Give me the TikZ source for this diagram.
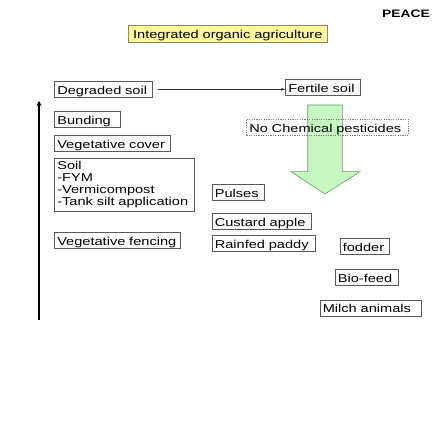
\documentclass[tikz,border=0pt]{standalone}
\usepackage{fontspec}
\setmainfont{Liberation Sans}
\newfontfamily\wide[FakeStretch=1.28]{Liberation Sans}
\usetikzlibrary{arrows.meta}
\definecolor{boxline}{HTML}{5A5A5A}
\definecolor{titlefill}{HTML}{FBF79A}
\definecolor{titleline}{HTML}{8A8A60}
\definecolor{arrowfill}{HTML}{C6F7C0}
\definecolor{arrowline}{HTML}{6E9A6A}
\tikzset{
  basebox/.style={font=\wide\fontsize{11.4}{12.1}\selectfont, draw=boxline, line width=0.6pt,
    inner xsep=3pt, inner ysep=0pt, minimum height=16pt, anchor=north west, align=left},
  box/.style={basebox, text height=11pt, text depth=1pt},
  dashbox/.style={box, draw=gray, dash pattern=on 1.2pt off 1.2pt},
  titlebox/.style={box, fill=titlefill, draw=titleline, minimum height=17pt, align=center},
  thinarrow/.style={draw=black!80, line width=0.6pt, -{Stealth[length=4pt,width=3pt]}},
  thickarrow/.style={draw=black, line width=1.6pt, -{Stealth[length=5pt,width=5pt]}}
}
\begin{document}
\begin{tikzpicture}[x=1pt,y=1pt]
\useasboundingbox (0,0) rectangle (443,-443);
\fill[white] (0,0) rectangle (443,-443);

% PEACE
\node[font=\wide\fontsize{10.8}{12}\selectfont\bfseries, anchor=west, inner sep=0pt] (peace) at (382,-13.5) {PEACE};

% title
\node[titlebox, text width=193pt] (title) at (128,-25) {Integrated organic agriculture};

% green arrow
\draw[fill=arrowfill, draw=arrowline, line width=0.6pt]
  (307.7,-105) -- (342.3,-105) -- (342.3,-171.7) -- (360,-171.7) -- (325,-194)
  -- (291,-171.7) -- (307.7,-171.7) -- cycle;

% left column
\node[box, text width=92pt] (deg) at (54,-81) {Degraded soil};
\node[box, text width=69pt] (fert) at (285,-79) {Fertile soil};
\node[box, text width=60pt] (bund) at (54,-111) {Bunding};
\node[box, text width=110pt] (vcov) at (54,-135) {Vegetative cover};
\node[basebox, text width=134pt, minimum height=53pt, inner ysep=2pt] (soil) at (54,-158)
  {Soil\\-FYM\\-Vermicompost\\-Tank silt application};
\node[box, text width=120pt] (vfen) at (54,-232) {Vegetative fencing};

% crops
\node[box, text width=46pt] (pulses) at (211.5,-184) {Pulses};
\node[box, text width=93pt] (custard) at (211.5,-213) {Custard apple};
\node[box, text width=97pt] (paddy) at (211.5,-235) {Rainfed paddy};

% no chemical pesticides
\node[dashbox, text width=156pt] (nochem) at (246,-119) {No Chemical pesticides};

% livestock
\node[box, text width=43.5pt] (fodder) at (339.5,-238) {fodder};
\node[box, text width=57pt] (biofeed) at (334.5,-269) {Bio-feed};
\node[box, text width=95.5pt] (milch) at (319.5,-299.5) {Milch animals};

% connectors
\draw[thinarrow, shorten <=5pt] (deg.east) -- (fert.west |- deg.east);
\coordinate (vbot) at (39,-320);
\coordinate (vtop) at (39,-101);
\draw[thickarrow] (vbot) -- (vtop);
\end{tikzpicture}
\end{document}
